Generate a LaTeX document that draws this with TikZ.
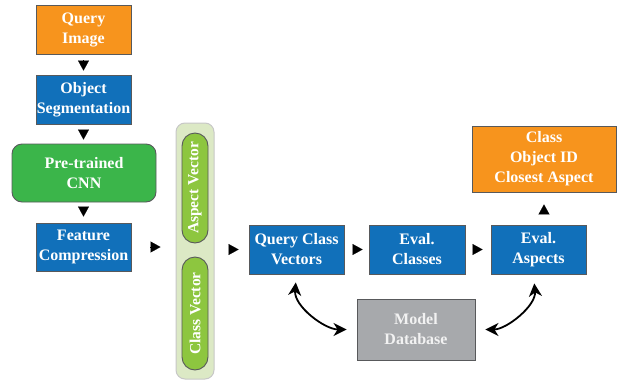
\documentclass[tikz,border=0pt]{standalone}
\usepackage{fontspec}
\setmainfont{Liberation Serif}
\usetikzlibrary{arrows.meta,calc}
\definecolor{cblue}{HTML}{1170BA}
\definecolor{corange}{HTML}{F7941D}
\definecolor{cgreen}{HTML}{3BB54A}
\definecolor{clgreen}{HTML}{DCE9C5}
\definecolor{cpill}{HTML}{8DC63F}
\definecolor{cgray}{HTML}{A7A9AC}
\definecolor{cborder}{HTML}{58595B}
\begin{document}
\begin{tikzpicture}[x=1pt,y=1pt,
  box/.style={draw=cborder, line width=0.9pt, text=white, align=center, inner sep=0pt,
    font=\fontsize{16}{20}\selectfont\bfseries},
  bluebox/.style={box, fill=cblue},
  orangebox/.style={box, fill=corange},
  pill/.style={box, fill=cpill, rounded corners=13pt, rotate=90, minimum height=26pt,
    font=\fontsize{15.5}{19}\selectfont\bfseries},
  tri/.style={-{Triangle[length=10pt,width=11pt]}, line width=0.1pt},
  dbl/.style={{Stealth[length=13pt,width=13pt,inset=4pt]}-{Stealth[length=13pt,width=13pt,inset=4pt]}, line width=1.8pt}
]
\useasboundingbox (0,0) rectangle (619,-381);
\node[orangebox, minimum width=95pt, minimum height=49pt] (qi) at (83.5,-29.5) {Query\\Image};
\node[bluebox, minimum width=95pt, minimum height=49pt] (os) at (83.5,-99.5) {Object\\Segmentation};
\node[box, fill=cgreen, rounded corners=10pt, minimum width=144pt, minimum height=58pt] (cnn) at (84,-173) {Pre-trained\\CNN};
\node[bluebox, minimum width=95pt, minimum height=48pt] (fc) at (83.5,-247) {Feature\\Compression};
\node[draw=black!22, fill=clgreen, line width=1pt, rounded corners=9pt, minimum width=38pt, minimum height=256pt] (col) at (195,-251) {};
\node[pill, minimum width=110pt] (av) at (195,-188) {Aspect Vector};
\node[pill, minimum width=113pt] (cv) at (195,-313.5) {Class Vector};
\node[bluebox, minimum width=95pt, minimum height=49pt] (qcv) at (296.5,-249.5) {Query Class\\Vectors};
\node[bluebox, minimum width=96pt, minimum height=49pt] (ec) at (417,-249.5) {Eval.\\Classes};
\node[bluebox, minimum width=95pt, minimum height=49pt] (ea) at (538.5,-249.5) {Eval.\\Aspects};
\node[orangebox, minimum width=144pt, minimum height=66pt] (out) at (544,-159) {Class\\Object ID\\Closest Aspect};
\node[box, fill=cgray, text=black!5, minimum width=118pt, minimum height=61pt] (db) at (416,-329.5) {Model\\Database};
% triangle markers
\draw[tri, shorten <=6pt, shorten >=4pt] (qi.south) -- (os.north);
\draw[tri, shorten <=6pt, shorten >=4pt] (os.south) -- (os.south |- cnn.north);
\draw[tri, shorten <=5pt, shorten >=6pt] (fc.north |- cnn.south) -- (fc.north);
\draw[tri, shorten <=19pt, shorten >=15pt] (fc.east) -- (fc.east -| col.west);
\draw[tri, shorten <=15pt, shorten >=10pt] (col.east |- qcv.west) -- (qcv.west);
\draw[tri, shorten <=9pt, shorten >=6pt] (qcv.east) -- (ec.west);
\draw[tri, shorten <=8pt, shorten >=8pt] (ec.east) -- (ea.west);
\draw[tri, shorten <=12pt, shorten >=12pt] (out.south |- ea.north) -- (out.south);
% database links
\draw[dbl, shorten <=8pt, shorten >=10pt] (qcv.south) to[out=-95, in=180] (db.west);
\draw[dbl, shorten <=10pt, shorten >=9pt] (db.east) to[out=0, in=-85] ($(ea.south)+(-5pt,0)$);
\end{tikzpicture}
\end{document}
